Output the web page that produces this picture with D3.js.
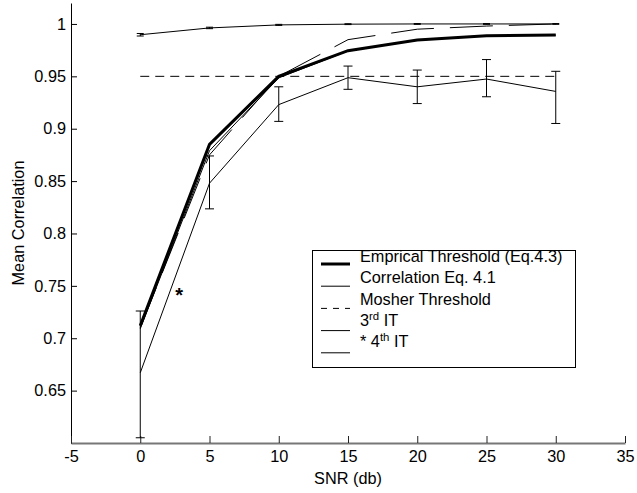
<!DOCTYPE html>
<html>
<head>
<meta charset="utf-8">
<script src="https://cdn.jsdelivr.net/npm/d3@7"></script>
<style>
  html, body { margin: 0; padding: 0; background: #fff; }
  text { font-family: "Liberation Sans", Arial, sans-serif; }
</style>
</head>
<body>
<svg id="chart" width="637" height="493"></svg>
<script>
// ---- data ----
const snr = [0, 5, 10, 15, 20, 25, 30];
const empirical = [0.712, 0.885, 0.950, 0.9745, 0.9847, 0.9888, 0.9895];
const corr41 = [0.9897, 0.9962, 0.9991, 0.9998, 1.0, 1.0, 1.0];
const corr41Err = [0.0012, 0.0007, 0.0005, 0.0004, 0.0004, 0.0004, 0.0004];
const mosher = [0.95, 0.95, 0.95, 0.95, 0.95, 0.95, 0.95];
const it3 = [0.709, 0.879, 0.9485, 0.9742, 0.9845, 0.9886, 0.9893];
const it4 = [0.667, 0.848, 0.923, 0.9487, 0.940, 0.9474, 0.9356];
const it4Upper = [0.726, 0.874, 0.940, 0.9598, 0.956, 0.966, 0.9548];
const it4Lower = [0.605, 0.8235, 0.907, 0.9376, 0.924, 0.9305, 0.905];
const longDash = [0.710, 0.875, 0.950, 0.985, 0.995, 0.998, 1.0];
const xTicks = [-5, 0, 5, 10, 15, 20, 25, 30, 35];
const yTicks = [0.6, 0.65, 0.7, 0.75, 0.8, 0.85, 0.9, 0.95, 1];
const legendLabels = [
  {main: "Emprical Threshold (Eq.4.3)"},
  {main: "Correlation Eq. 4.1"},
  {main: "Mosher Threshold"},
  {pre: "3", sup: "rd", post: " IT"},
  {pre: "* 4", sup: "th", post: " IT"}
];
const starNote = {x: 2.8, y: 0.743, text: "*"};

// ---- layout ----
const svg = d3.select("#chart");
const x = d3.scaleLinear().domain([-5, 35]).range([71, 625]);
const y = d3.scaleLinear().domain([0.6, 1.02]).range([443, 3]);
const FS = 16.3;

// axes
const yAxis = d3.axisLeft(y).tickValues(yTicks).tickSizeInner(-6).tickSizeOuter(0).tickPadding(5)
  .tickFormat(d => d === 0.6 ? "" : d3.format("")(+d.toFixed(2)));
const gy = svg.append("g").attr("transform", `translate(${x(-5)},0)`).call(yAxis);
gy.select(".domain").attr("stroke", "#000");
gy.selectAll("text").attr("font-size", FS).attr("fill", "#000").attr("font-family", "Liberation Sans, Arial, sans-serif");

const xAxis = d3.axisBottom(x).tickValues(xTicks).tickSizeInner(-7).tickSizeOuter(0).tickPadding(7)
  .tickFormat(d => String(d));
const gx = svg.append("g").attr("transform", `translate(0,${y(0.6)})`).call(xAxis);
gx.select(".domain").attr("stroke", "#777").attr("stroke-width", 2);
gx.selectAll(".tick line").attr("stroke", "#222");
gx.selectAll("text").attr("font-size", FS).attr("fill", "#000").attr("font-family", "Liberation Sans, Arial, sans-serif");

// axis labels
svg.append("text").attr("x", x(15)).attr("y", 484).attr("text-anchor", "middle")
  .attr("font-size", FS).text("SNR (db)");
svg.append("text").attr("transform", `translate(24,${(y(0.6) + y(1.02)) / 2}) rotate(-90)`)
  .attr("text-anchor", "middle").attr("font-size", FS).text("Mean Correlation");

const line = d3.line().x((d, i) => x(snr[i])).y(d => y(d));
const plot = svg.append("g");

function errBars(mean, lo, hi, w) {
  const g = plot.append("g").attr("stroke", "#000").attr("stroke-width", 1).attr("fill", "none");
  snr.forEach((s, i) => {
    g.append("line").attr("x1", x(s)).attr("x2", x(s)).attr("y1", y(lo[i])).attr("y2", y(hi[i]));
    g.append("line").attr("x1", x(s) - w).attr("x2", x(s) + w).attr("y1", y(lo[i])).attr("y2", y(lo[i]));
    g.append("line").attr("x1", x(s) - w).attr("x2", x(s) + w).attr("y1", y(hi[i])).attr("y2", y(hi[i]));
  });
}

// Mosher threshold
plot.append("path").datum(mosher).attr("d", line).attr("fill", "none")
  .attr("stroke", "#000").attr("stroke-width", 1).attr("stroke-dasharray", "9,6");
// long-dashed iteration
plot.append("path").datum(longDash).attr("d", line).attr("fill", "none")
  .attr("stroke", "#000").attr("stroke-width", 1).attr("stroke-dasharray", "43,16");
// 3rd IT
plot.append("path").datum(it3).attr("d", line).attr("fill", "none")
  .attr("stroke", "#000").attr("stroke-width", 1);
// 4th IT with error bars
plot.append("path").datum(it4).attr("d", line).attr("fill", "none")
  .attr("stroke", "#000").attr("stroke-width", 1);
errBars(it4, it4Lower, it4Upper, 4.5);
// Correlation Eq 4.1 with error bars
plot.append("path").datum(corr41).attr("d", line).attr("fill", "none")
  .attr("stroke", "#000").attr("stroke-width", 1);
errBars(corr41, corr41.map((v, i) => v - corr41Err[i]), corr41.map((v, i) => v + corr41Err[i]), 3.5);
// Empirical threshold (thick)
plot.append("path").datum(empirical).attr("d", line).attr("fill", "none")
  .attr("stroke", "#000").attr("stroke-width", 3).attr("stroke-linejoin", "miter");

// asterisk note
svg.append("text").attr("x", x(starNote.x)).attr("y", y(starNote.y) + 9).attr("text-anchor", "middle")
  .attr("font-size", 20).attr("font-weight", "bold").text(starNote.text);

// legend
const lg = svg.append("g");
lg.append("rect").attr("x", 312.5).attr("y", 250.5).attr("width", 263).attr("height", 117)
  .attr("fill", "#fff").attr("stroke", "#000").attr("stroke-width", 1);
const styles = [
  {w: 3, dash: null},
  {w: 1, dash: null},
  {w: 1, dash: "6,6"},
  {w: 1, dash: null},
  {w: 1, dash: null}
];
legendLabels.forEach((lab, i) => {
  const ty = 262 + i * 21.3;
  const ly = 264 + i * 22.2;
  lg.append("line").attr("x1", 321).attr("x2", 350).attr("y1", ly).attr("y2", ly)
    .attr("stroke", "#000").attr("stroke-width", styles[i].w)
    .attr("stroke-dasharray", styles[i].dash);
  const t = lg.append("text").attr("x", 360).attr("y", ty).attr("font-size", FS);
  if (lab.main) {
    t.text(lab.main);
  } else {
    t.append("tspan").text(lab.pre);
    t.append("tspan").attr("font-size", FS * 0.7).attr("dy", -6).text(lab.sup);
    t.append("tspan").attr("dy", 6).text(lab.post);
  }
});
</script>
</body>
</html>
